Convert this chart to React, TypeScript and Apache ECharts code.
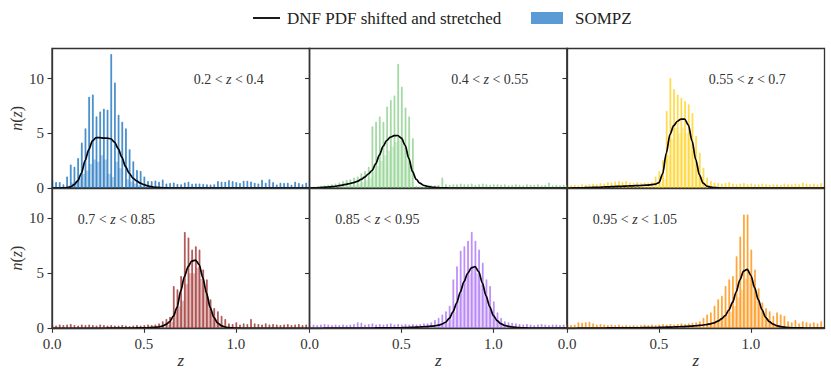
import React, { useEffect, useRef } from 'react';
import * as echarts from 'echarts';

// ---------------- data ----------------
const BIN_PAIR = 0.02; // each pair of histogram bins spans 0.02 in z
const SPIKE_W = 0.004; // drawn width of the high (spike) bin inside a pair
const CURVE_STEP = 0.02; // z spacing of the DNF curve samples
const X_TICKS = [0, 0.5, 1.0];
const Y_TICKS = [0, 5, 10];
const X_MAX = 1.4;
const Y_MAX = 12.75;

const BIN_RANGES = [
  ['0.2', '0.4'],
  ['0.4', '0.55'],
  ['0.55', '0.7'],
  ['0.7', '0.85'],
  ['0.85', '0.95'],
  ['0.95', '1.05'],
];

const LEGEND_LINE = 'DNF PDF shifted and stretched';
const LEGEND_HIST = 'SOMPZ';

// SOMPZ histogram: value of the high bin and of the low bin in each 0.02-wide pair
const SOMPZ_HIGH_1 = [0.67, 0.5, 0.5, 0.3, 1.0, 2.1, 1.9, 2.7, 4.1, 5.4, 8.3, 8.5, 6.5, 6.95, 7.2, 7.1, 12.2, 9.6, 6.65, 6.0, 5.4, 3.5, 2.4, 1.6, 1.5, 1.0, 0.6, 0.58, 0.64, 0.52, 0.73, 0.36, 0.4, 0.45, 0.33, 0.3, 0.45, 0.52, 0.33, 0.36, 0.36, 0.33, 0.3, 0.27, 0.3, 0.58, 0.52, 0.52, 0.67, 0.58, 0.49, 0.4, 0.61, 0.61, 0.55, 0.43, 0.36, 0.7, 0.43, 0.76, 0.49, 0.27, 0.43, 0.4, 0.43, 0.24, 0.52, 0.4, 0.3, 0.43];
const SOMPZ_LOW_1 = [0, 0, 0, 0, 0.2, 0.5, 0.6, 0.9, 1.3, 1.6, 2.2, 2.6, 2.4, 3.0, 2.6, 1.3, 1.0, 2.4, 1.8, 0, 0.8, 0.6, 0.4, 0.25, 0.15, 0.1, 0, 0, 0, 0, 0, 0, 0, 0, 0, 0, 0, 0, 0, 0, 0, 0, 0, 0, 0, 0, 0, 0, 0, 0, 0, 0, 0, 0, 0, 0, 0, 0, 0, 0, 0, 0, 0, 0, 0, 0, 0, 0, 0, 0];

const SOMPZ_HIGH_2 = [0.05, 0.08, 0.1, 0.15, 0.2, 0.25, 0.3, 0.35, 0.45, 0.6, 0.7, 0.75, 0.9, 1.0, 1.3, 1.5, 1.9, 5.6, 6.0, 6.5, 6.0, 7.4, 8.0, 8.4, 11.3, 9.2, 7.3, 6.5, 4.5, 0.15, 0.1, 0.12, 0.15, 0.2, 0.2, 0.25, 0.9, 0.3, 0.25, 0.3, 0.3, 0.35, 0.3, 0.3, 0.35, 0.25, 0.3, 0.35, 0.3, 0.25, 0.3, 0.3, 0.25, 0.3, 0.2, 0.25, 0.3, 0.25, 0.2, 0.3, 0.25, 0.25, 0.3, 0.2, 0.25, 0.45, 0.2, 0.25, 0.2, 0.25];
const SOMPZ_LOW_2 = [0, 0, 0, 0, 0, 0, 0, 0, 0.1, 0.15, 0.2, 0.25, 0.3, 0.4, 0.55, 0.7, 0.9, 1.5, 2.0, 2.5, 3.0, 3.4, 3.8, 4.2, 4.4, 4.0, 3.4, 2.0, 0, 0, 0, 0, 0, 0, 0, 0, 0, 0, 0, 0, 0, 0, 0, 0, 0, 0, 0, 0, 0, 0, 0, 0, 0, 0, 0, 0, 0, 0, 0, 0, 0, 0, 0, 0, 0, 0, 0, 0, 0, 0];

const SOMPZ_HIGH_3 = [0.25, 0.2, 0.25, 0.2, 0.3, 0.25, 0.3, 0.35, 0.3, 0.4, 0.35, 0.5, 0.45, 0.55, 0.6, 0.5, 0.6, 0.45, 0.4, 0.5, 0.4, 0.45, 0.45, 0.5, 1.0, 1.5, 2.5, 7.0, 10.0, 9.0, 8.5, 8.2, 7.9, 7.6, 6.8, 4.7, 3.2, 1.8, 0.9, 0.6, 0.45, 0.4, 0.35, 0.4, 0.5, 0.35, 0.3, 0.35, 0.4, 0.3, 0.35, 0.3, 0.3, 0.35, 0.3, 0.25, 0.3, 0.3, 0.25, 0.35, 0.3, 0.3, 0.35, 0.3, 0.45, 0.35, 0.3, 0.35, 0.3, 0.4];
const SOMPZ_LOW_3 = [0, 0, 0, 0, 0, 0, 0, 0, 0, 0, 0, 0, 0, 0, 0, 0, 0, 0, 0, 0, 0, 0, 0, 0, 0.3, 0.5, 0.8, 3.0, 4.5, 5.5, 5.0, 5.5, 5.0, 4.5, 3.5, 2.0, 1.0, 0.3, 0, 0, 0, 0, 0, 0, 0, 0, 0, 0, 0, 0, 0, 0, 0, 0, 0, 0, 0, 0, 0, 0, 0, 0, 0, 0, 0, 0, 0, 0, 0, 0];

const SOMPZ_HIGH_4 = [0.25, 0.2, 0.3, 0.25, 0.3, 0.35, 0.25, 0.2, 0.3, 0.25, 0.3, 0.25, 0.2, 0.3, 0.25, 0.2, 0.25, 0.2, 0.2, 0.25, 0.2, 0.15, 0.2, 0.25, 0.2, 0.25, 0.3, 0.25, 0.3, 0.4, 0.6, 0.8, 1.0, 3.8, 3.5, 4.7, 8.7, 8.2, 7.1, 7.4, 7.1, 5.3, 4.4, 2.6, 1.8, 1.5, 1.1, 0.8, 0.4, 0.35, 0.5, 0.3, 0.4, 0.35, 0.8, 0.4, 0.35, 0.3, 0.4, 0.3, 0.35, 0.3, 0.25, 0.3, 0.35, 0.25, 0.3, 0.35, 0.25, 0.3];
const SOMPZ_LOW_4 = [0, 0, 0, 0, 0, 0, 0, 0, 0, 0, 0, 0, 0, 0, 0, 0, 0, 0, 0, 0, 0, 0, 0, 0, 0, 0, 0, 0, 0, 0, 0, 0.3, 0.6, 1.5, 2.0, 2.5, 4.0, 5.0, 5.0, 5.5, 4.5, 3.5, 2.5, 1.5, 0.8, 0.4, 0.2, 0, 0, 0, 0, 0, 0, 0, 0, 0, 0, 0, 0, 0, 0, 0, 0, 0, 0, 0, 0, 0, 0, 0];

const SOMPZ_HIGH_5 = [0.2, 0.3, 0.25, 0.3, 0.35, 0.3, 0.25, 0.3, 0.25, 0.3, 0.25, 0.3, 0.35, 0.5, 0.45, 0.3, 0.35, 0.4, 0.3, 0.35, 0.3, 0.35, 0.4, 0.3, 0.35, 0.3, 0.35, 0.3, 0.35, 0.3, 0.35, 0.4, 0.4, 0.5, 0.7, 0.9, 1.2, 1.5, 2.0, 4.4, 5.6, 7.0, 7.4, 7.9, 8.7, 7.9, 7.1, 5.9, 4.4, 3.8, 2.4, 1.4, 0.9, 0.6, 0.5, 0.45, 0.4, 0.35, 0.3, 0.35, 0.3, 0.25, 0.3, 0.35, 0.3, 0.25, 0.3, 0.3, 0.25, 0.3];
const SOMPZ_LOW_5 = [0, 0, 0, 0, 0, 0, 0, 0, 0, 0, 0, 0, 0, 0, 0, 0, 0, 0, 0, 0, 0, 0, 0, 0, 0, 0, 0, 0, 0, 0, 0, 0, 0, 0, 0.2, 0.3, 0.4, 0.5, 0.8, 1.5, 2.5, 3.5, 4.5, 5.0, 5.5, 5.0, 4.0, 3.0, 2.0, 1.5, 0.8, 0.4, 0.2, 0, 0, 0, 0, 0, 0, 0, 0, 0, 0, 0, 0, 0, 0, 0, 0, 0];

const SOMPZ_HIGH_6 = [0.3, 0.25, 0.3, 0.5, 0.45, 0.5, 0.55, 0.4, 0.3, 0.35, 0.3, 0.25, 0.3, 0.25, 0.3, 0.2, 0.25, 0.2, 0.25, 0.2, 0.25, 0.3, 0.25, 0.3, 0.25, 0.3, 0.35, 0.3, 0.35, 0.3, 0.35, 0.4, 0.35, 0.4, 0.45, 0.5, 0.6, 0.9, 1.2, 1.4, 2.0, 2.6, 2.9, 3.8, 4.4, 4.7, 6.5, 8.3, 10.3, 10.3, 7.1, 5.3, 3.6, 2.3, 1.8, 1.5, 1.1, 1.4, 1.2, 1.1, 0.6, 0.5, 0.7, 0.4, 0.6, 0.5, 0.4, 0.5, 0.4, 0.6];
const SOMPZ_LOW_6 = [0, 0, 0, 0, 0, 0, 0, 0, 0, 0, 0, 0, 0, 0, 0, 0, 0, 0, 0, 0, 0, 0, 0, 0, 0, 0, 0, 0, 0, 0, 0, 0, 0, 0, 0, 0, 0, 0, 0.3, 0.5, 0.6, 0.8, 1.0, 1.2, 1.5, 2.0, 2.8, 3.5, 4.5, 5.0, 4.0, 3.0, 2.0, 1.2, 0.8, 0.5, 0.4, 0.3, 0.2, 0, 0, 0, 0, 0, 0, 0, 0, 0, 0, 0];

// DNF PDF (shifted and stretched), sampled every 0.02 in z from 0 to 1.4
const DNF_1 = [0, 0, 0, 0.01, 0.03, 0.1, 0.3, 0.65, 1.35, 2.5, 3.5, 4.3, 4.6, 4.6, 4.55, 4.55, 4.5, 4.2, 3.6, 2.8, 1.95, 1.35, 0.9, 0.65, 0.45, 0.3, 0.2, 0.12, 0.07, 0.04, 0.02, 0.01, 0, 0, 0, 0, 0, 0, 0, 0, 0, 0, 0, 0, 0, 0, 0, 0, 0, 0, 0, 0, 0, 0, 0, 0, 0, 0, 0, 0, 0, 0, 0, 0, 0, 0, 0, 0, 0, 0, 0];
const DNF_2 = [0, 0.01, 0.02, 0.04, 0.06, 0.09, 0.12, 0.16, 0.21, 0.27, 0.34, 0.41, 0.5, 0.6, 0.78, 1.0, 1.28, 1.6, 2.2, 3.0, 3.8, 4.35, 4.65, 4.78, 4.8, 4.55, 3.9, 2.7, 1.5, 0.8, 0.45, 0.25, 0.15, 0.09, 0.05, 0.03, 0.02, 0.01, 0, 0, 0, 0, 0, 0, 0, 0, 0, 0, 0, 0, 0, 0, 0, 0, 0, 0, 0, 0, 0, 0, 0, 0, 0, 0, 0, 0, 0, 0, 0, 0, 0];
const DNF_3 = [0, 0, 0.01, 0.01, 0.02, 0.03, 0.04, 0.05, 0.06, 0.07, 0.09, 0.1, 0.12, 0.13, 0.15, 0.16, 0.18, 0.19, 0.2, 0.22, 0.23, 0.25, 0.27, 0.3, 0.35, 0.5, 1.3, 3.2, 4.9, 5.7, 6.1, 6.3, 6.3, 5.75, 4.3, 2.6, 1.2, 0.45, 0.18, 0.08, 0.04, 0.02, 0, 0, 0, 0, 0, 0, 0, 0, 0, 0, 0, 0, 0, 0, 0, 0, 0, 0, 0, 0, 0, 0, 0, 0, 0, 0, 0, 0, 0];
const DNF_4 = [0, 0, 0, 0, 0, 0, 0, 0, 0, 0, 0, 0, 0, 0, 0, 0.01, 0.01, 0.01, 0.01, 0.02, 0.02, 0.02, 0.02, 0.03, 0.03, 0.03, 0.05, 0.07, 0.09, 0.12, 0.2, 0.35, 0.6, 1.1, 1.9, 3.4, 4.7, 5.6, 6.1, 6.2, 5.8, 4.6, 3.2, 1.9, 1.0, 0.5, 0.25, 0.12, 0.06, 0.03, 0.02, 0.01, 0, 0, 0, 0, 0, 0, 0, 0, 0, 0, 0, 0, 0, 0, 0, 0, 0, 0, 0];
const DNF_5 = [0, 0, 0, 0, 0.01, 0.01, 0.01, 0.01, 0.01, 0.01, 0.01, 0.01, 0.01, 0.02, 0.02, 0.02, 0.02, 0.02, 0.03, 0.03, 0.03, 0.03, 0.04, 0.04, 0.04, 0.05, 0.06, 0.07, 0.09, 0.1, 0.12, 0.14, 0.16, 0.19, 0.22, 0.28, 0.38, 0.55, 0.9, 1.5, 2.3, 3.3, 4.25, 5.0, 5.5, 5.6, 5.15, 4.1, 2.95, 1.95, 1.15, 0.7, 0.42, 0.27, 0.18, 0.12, 0.09, 0.06, 0.04, 0.03, 0.02, 0.01, 0.01, 0.01, 0.01, 0.01, 0.01, 0.01, 0.01, 0.01, 0.01];
const DNF_6 = [0, 0, 0, 0.01, 0.01, 0.01, 0.01, 0.02, 0.02, 0.02, 0.02, 0.03, 0.03, 0.03, 0.03, 0.04, 0.04, 0.04, 0.05, 0.05, 0.05, 0.06, 0.06, 0.07, 0.07, 0.08, 0.09, 0.1, 0.11, 0.12, 0.13, 0.15, 0.16, 0.18, 0.2, 0.23, 0.26, 0.3, 0.34, 0.41, 0.5, 0.65, 0.85, 1.15, 1.65, 2.35, 3.3, 4.4, 5.2, 5.35, 4.8, 3.7, 2.6, 1.7, 1.0, 0.6, 0.38, 0.24, 0.15, 0.1, 0.07, 0.05, 0.04, 0.03, 0.03, 0.02, 0.02, 0.01, 0.01, 0.01, 0.01];

const HIGHS = [SOMPZ_HIGH_1, SOMPZ_HIGH_2, SOMPZ_HIGH_3, SOMPZ_HIGH_4, SOMPZ_HIGH_5, SOMPZ_HIGH_6];
const LOWS = [SOMPZ_LOW_1, SOMPZ_LOW_2, SOMPZ_LOW_3, SOMPZ_LOW_4, SOMPZ_LOW_5, SOMPZ_LOW_6];
const CURVES = [DNF_1, DNF_2, DNF_3, DNF_4, DNF_5, DNF_6];

// ---------------- style / layout ----------------
const COLORS = ['#2f7fc4', '#96d496', '#ffd633', '#a84242', '#b47ff8', '#ff9a20'];
const FONT = '"Liberation Serif", "Times New Roman", serif';
const TEXT_COLOR = '#333';
const FRAME = '#333';
const COL_LEFT = [52, 309.5, 567];
const COL_W = 257.5;
const ROW_TOP = [48.5, 188];
const ROW_H = [139.5, 140.3];

// spikes: thin outlines rising from 0 to the high value of each pair
function spikePoints(high: number[]) {
  const pts: number[][] = [];
  for (let k = 0; k < high.length; k++) {
    const x0 = +(k * BIN_PAIR).toFixed(4);
    const x1 = +(k * BIN_PAIR + SPIKE_W).toFixed(4);
    pts.push([x0, 0], [x0, high[k]], [x1, high[k]], [x1, 0]);
  }
  return pts;
}

// low fill: step outline of the low value across each pair
function lowPoints(low: number[]) {
  const pts: number[][] = [];
  for (let k = 0; k < low.length; k++) {
    const x0 = +(k * BIN_PAIR).toFixed(4);
    const x2 = +((k + 1) * BIN_PAIR).toFixed(4);
    pts.push([x0, low[k]], [x2, low[k]]);
  }
  return pts;
}

function curvePoints(vals: number[]) {
  return vals.map((v, i) => [+(i * CURVE_STEP).toFixed(2), v]);
}

export default function App() {
  const ref = useRef<HTMLDivElement>(null);

  useEffect(() => {
    document.body.style.margin = '0';
    if (!ref.current) return;
    const chart = echarts.init(ref.current, undefined, { renderer: 'svg' });

    const grids: any[] = [];
    const xAxes: any[] = [];
    const yAxes: any[] = [];
    const series: any[] = [];
    const graphics: any[] = [];

    for (let p = 0; p < 6; p++) {
      const row = Math.floor(p / 3);
      const col = p % 3;
      grids.push({
        left: COL_LEFT[col],
        top: ROW_TOP[row],
        width: COL_W,
        height: ROW_H[row],
        show: true,
        borderColor: FRAME,
        borderWidth: 1.3,
        backgroundColor: 'transparent',
        containLabel: false,
        outerBoundsMode: 'none',
      });
      const bottomRow = row === 1;
      xAxes.push({
        type: 'value',
        gridIndex: p,
        min: 0,
        max: X_MAX,
        interval: 0.5,
        z: 10,
        axisLine: { show: true, onZero: false, lineStyle: { color: FRAME, width: 1.3 } },
        axisTick: {
          show: bottomRow,
          length: 4.5,
          customValues: X_TICKS,
          lineStyle: { color: FRAME, width: 1.1 },
        },
        axisLabel: {
          show: bottomRow,
          customValues: X_TICKS,
          formatter: (v: number) => v.toFixed(1),
          fontFamily: FONT,
          fontSize: 15,
          color: TEXT_COLOR,
          margin: 8,
        },
        splitLine: { show: false },
        name: bottomRow ? '{i|z}' : '',
        nameLocation: 'middle',
        nameGap: 24,
        nameTextStyle: {
          fontFamily: FONT,
          fontSize: 16,
          color: TEXT_COLOR,
          rich: { i: { fontFamily: FONT, fontStyle: 'italic', fontSize: 17, color: TEXT_COLOR } },
        },
      });
      const firstCol = col === 0;
      yAxes.push({
        type: 'value',
        gridIndex: p,
        min: 0,
        max: Y_MAX,
        interval: 5,
        z: 10,
        axisLine: { show: true, onZero: false, lineStyle: { color: FRAME, width: 1.3 } },
        axisTick: { show: true, length: 4.5, customValues: Y_TICKS, lineStyle: { color: FRAME, width: 1.1 } },
        axisLabel: {
          show: firstCol,
          customValues: Y_TICKS,
          fontFamily: FONT,
          fontSize: 15,
          color: TEXT_COLOR,
          margin: 8,
        },
        splitLine: { show: false },
        name: firstCol ? '{i|n}({i|z})' : '',
        nameLocation: 'middle',
        nameGap: 28,
        nameTextStyle: {
          fontFamily: FONT,
          fontSize: 16,
          color: TEXT_COLOR,
          rich: {
            i: { fontFamily: FONT, fontStyle: 'italic', fontSize: 16, color: TEXT_COLOR },
          },
        },
      });

      series.push({
        type: 'line',
        name: LEGEND_HIST,
        xAxisIndex: p,
        yAxisIndex: p,
        data: lowPoints(LOWS[p]),
        showSymbol: false,
        symbol: 'none',
        lineStyle: { width: 0, opacity: 0 },
        areaStyle: { color: COLORS[p], opacity: 0.35, origin: 'start' },
        silent: true,
        z: 2,
      });
      series.push({
        type: 'line',
        name: LEGEND_HIST,
        xAxisIndex: p,
        yAxisIndex: p,
        data: spikePoints(HIGHS[p]),
        showSymbol: false,
        symbol: 'none',
        lineStyle: { color: COLORS[p], width: 1.1, opacity: 0.8 },
        areaStyle: { color: COLORS[p], opacity: 0.55, origin: 'start' },
        silent: true,
        z: 2,
      });
      series.push({
        type: 'line',
        name: LEGEND_LINE,
        xAxisIndex: p,
        yAxisIndex: p,
        data: curvePoints(CURVES[p]),
        showSymbol: false,
        symbol: 'none',
        smooth: 0.3,
        smoothMonotone: 'x',
        lineStyle: { color: '#000', width: 1.7 },
        silent: true,
        z: 3,
      });

      const [lo, hi] = BIN_RANGES[p];
      const fx = bottomRow ? 0.1 : 0.55;
      graphics.push({
        type: 'text',
        x: COL_LEFT[col] + fx * COL_W,
        y: bottomRow ? 219 : 79,
        z: 20,
        style: {
          text: `${lo} < {i|z} < ${hi}`,
          font: `14px ${FONT}`,
          fill: TEXT_COLOR,
          verticalAlign: 'middle',
          align: 'left',
          rich: { i: { fontStyle: 'italic', fontFamily: FONT, fontSize: 14, fill: TEXT_COLOR } },
        },
      });
    }

    // legend
    graphics.push(
      { type: 'line', shape: { x1: 253, y1: 18, x2: 280, y2: 18 }, style: { stroke: '#000', lineWidth: 1.8 } },
      {
        type: 'text',
        x: 287,
        y: 18,
        style: { text: LEGEND_LINE, font: `17px ${FONT}`, fill: '#222', verticalAlign: 'middle', align: 'left' },
      },
      { type: 'rect', shape: { x: 531, y: 12, width: 32, height: 12 }, style: { fill: '#5b9bd5' } },
      {
        type: 'text',
        x: 575,
        y: 18,
        style: { text: LEGEND_HIST, font: `17px ${FONT}`, fill: '#222', verticalAlign: 'middle', align: 'left' },
      }
    );

    chart.setOption({
      animation: false,
      backgroundColor: '#fff',
      grid: grids,
      xAxis: xAxes,
      yAxis: yAxes,
      series,
      graphic: graphics,
    });

    return () => chart.dispose();
  }, []);

  return (
    <div
      ref={ref}
      style={{ position: 'absolute', left: 0, top: 0, width: 831, height: 378 }}
    />
  );
}
